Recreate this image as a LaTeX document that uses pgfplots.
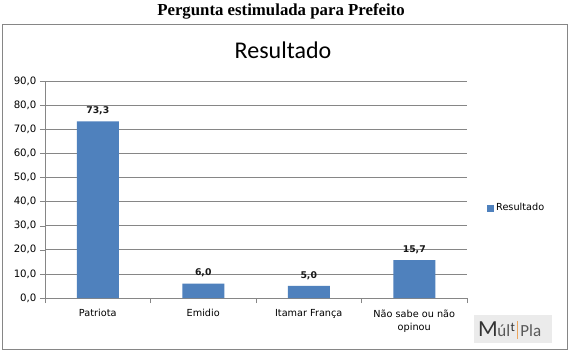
\documentclass[border=0pt]{standalone}
\usepackage{pgfplots}
\pgfplotsset{compat=1.18}
\usepackage{fontspec}
\setmainfont{DejaVu Sans}
\newfontfamily\titlefont{Liberation Serif}
\newfontfamily\calfont{Carlito}
\definecolor{barblue}{HTML}{4F81BD}
\definecolor{gridgray}{HTML}{868686}
\begin{document}
\begin{tikzpicture}[x=1pt,y=1pt]
\useasboundingbox (0,0) rectangle (572,354);
\fill[white] (0,0) rectangle (572,354);
\draw[gridgray, line width=0.9pt] (2,5) rectangle (567,330);
\node[font=\titlefont\bfseries\fontsize{16.8}{18}\selectfont] at (281,343) {Pergunta estimulada para Prefeito};
\node[font=\calfont\fontsize{24}{26}\selectfont] at (283,304) {Resultado};
% logo
\fill[black!8] (474,11) rectangle (552,39);
\node[anchor=west, inner sep=0pt, font=\calfont] at (478,24) {%
  \textcolor{black!80}{\fontsize{23}{23}\selectfont M}\kern-0.5pt%
  \textcolor{black!65}{\fontsize{17}{17}\selectfont úl}\kern0.5pt%
  \raisebox{5pt}{\textcolor{black!80}{\fontsize{13}{13}\selectfont t}}\kern2pt%
  \textcolor{orange!60!brown!70}{\rule[-3pt]{1.3pt}{18pt}}\kern2pt%
  \textcolor{black!65}{\fontsize{17}{17}\selectfont Pla}};
\begin{axis}[
  at={(45pt,56pt)}, anchor=south west,
  scale only axis, width=422pt, height=217pt,
  xmin=-0.5, xmax=3.5, ymin=0, ymax=90,
  ybar, bar width=42pt,
  axis lines*=left,
  axis line style={gridgray},
  ytick={0,10,...,90},
  ymajorgrids, grid style={gridgray, line width=0.6pt},
  tick align=outside,
  major tick length=5pt, minor tick length=5pt,
  tick style={gridgray},
  xtick={0,1,2,3},
  xticklabels={Patriota,Emidio,Itamar França,{Não sabe ou não\\opinou}},
  x tick style={draw=none},
  minor xtick={-0.5,0.5,1.5,2.5,3.5},
  minor x tick style={draw=gridgray},
  xticklabel style={align=center, font=\fontsize{9.7}{13.5}\selectfont, yshift=-3pt},
  yticklabel style={font=\fontsize{10.2}{11}\selectfont},
  /pgf/number format/.cd, fixed, fixed zerofill, precision=1, use comma, assume math mode=true,
  /pgfplots/.cd,
  nodes near coords,
  nodes near coords style={font=\bfseries\fontsize{9.3}{11}\selectfont, text=black!90, yshift=3pt,
    /pgf/number format/.cd, fixed, fixed zerofill, precision=1, use comma, assume math mode=true},
  legend style={at={(441pt,90pt)}, anchor=west, draw=none, font=\fontsize{9.7}{11}\selectfont, inner sep=1pt},
  legend cell align=left,
  legend image code/.code={\fill[barblue] (0pt,-3.5pt) rectangle (7pt,3.5pt);},
]
\addplot[fill=barblue, draw=none] coordinates {(0,73.3) (1,6.0) (2,5.0) (3,15.7)};
\legend{Resultado}
\end{axis}
\end{tikzpicture}
\end{document}
